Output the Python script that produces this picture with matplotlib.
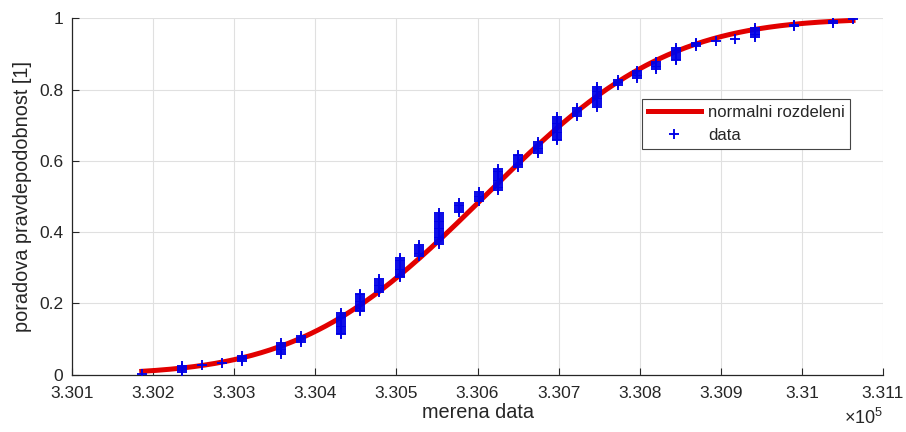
import numpy as np
import matplotlib
matplotlib.use("Agg")
import matplotlib.pyplot as plt
from math import erf, sqrt

plt.rcParams['font.family'] = ['Liberation Sans', 'DejaVu Sans']
plt.rcParams['mathtext.fontset'] = 'custom'
plt.rcParams['mathtext.rm'] = 'Liberation Sans'
plt.rcParams['mathtext.it'] = 'Liberation Sans'

# measured values (clusters) and how many measurements share each value
values = [330186, 330236, 330260, 330285, 330310, 330358, 330382, 330432, 330455, 330479,
          330504, 330528, 330553, 330577, 330602, 330625, 330650, 330675, 330698, 330723,
          330747, 330773, 330797, 330820, 330845, 330869, 330894, 330918, 330942, 330990,
          331038, 331063]
counts = [1, 4, 1, 1, 4, 7, 4, 13, 11, 8,
          12, 7, 18, 6, 6, 13, 8, 7, 14, 5,
          12, 4, 5, 5, 8, 3, 1, 1, 6, 2,
          2, 1]

xticks = [330100, 330200, 330300, 330400, 330500, 330600, 330700, 330800, 330900, 331000, 331100]
xticklabels = ['3.301', '3.302', '3.303', '3.304', '3.305', '3.306', '3.307', '3.308', '3.309', '3.31', '3.311']
yticks = [0, 0.2, 0.4, 0.6, 0.8, 1]
yticklabels = ['0', '0.2', '0.4', '0.6', '0.8', '1']

data = np.sort(np.repeat(values, counts)).astype(float)
n = len(data)
rank_p = (np.arange(1, n + 1) - 0.5) / n

mu = data.mean()
sigma = data.std(ddof=1)
xc = np.linspace(data.min(), data.max(), 400)
yc = np.array([0.5 * (1 + erf((v - mu) / (sigma * sqrt(2)))) for v in xc])

txt = '#262626'
fig = plt.figure(figsize=(9.06, 4.32), dpi=100)
ax = fig.add_axes([0.0795, 0.1331, 0.8951, 0.8241])

ax.plot(xc, yc, color='#e20000', lw=3.6, label='normalni rozdeleni', zorder=2)
ax.plot(data, rank_p, linestyle='none', marker='+', color='#0000e6', ms=7.5, mew=1.35,
        label='data', zorder=3)

ax.set_xlim(330100, 331100)
ax.set_ylim(0, 1)
ax.set_xticks(xticks)
ax.set_xticklabels(xticklabels)
ax.set_yticks(yticks)
ax.set_yticklabels(yticklabels)
ax.grid(True, color='#e0e0e0', lw=0.8)
ax.set_axisbelow(True)
for s in ['top', 'right']:
    ax.spines[s].set_visible(False)
for s in ['left', 'bottom']:
    ax.spines[s].set_color(txt)
    ax.spines[s].set_linewidth(0.9)
ax.tick_params(direction='in', length=5, width=0.8, colors=txt, labelsize=12.5)
ax.tick_params(axis='x', pad=8.5)
ax.tick_params(axis='y', pad=6.2)

ax.set_xlabel('merena data', fontsize=14.3, color=txt, labelpad=1)
ax.set_ylabel('poradova pravdepodobnost [1]', fontsize=14.3, color=txt, labelpad=5)
ax.text(1.0, -0.095, r'$\times\mathregular{10^{5}}$', transform=ax.transAxes, ha='right', va='top',
        fontsize=13, color=txt)

leg = ax.legend(loc='upper left', bbox_to_anchor=(0.703, 0.774), borderaxespad=0,
                fontsize=12, handlelength=3.2, labelspacing=0.5, handletextpad=0.4,
                borderpad=0.34, fancybox=False, framealpha=1, edgecolor='#444444')
leg.get_frame().set_linewidth(0.8)
for t in leg.get_texts():
    t.set_color(txt)

fig.savefig('out.png', dpi=100, facecolor='white')
